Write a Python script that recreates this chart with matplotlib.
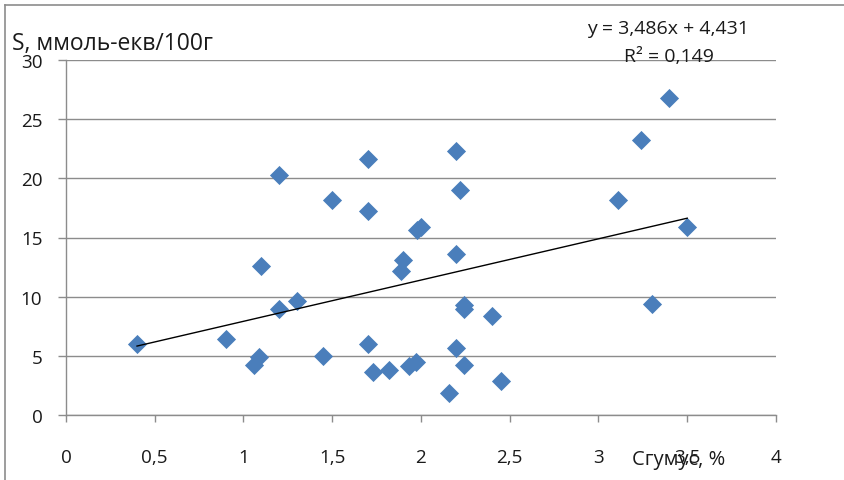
import matplotlib as mpl
mpl.use("Agg")
import matplotlib.pyplot as plt
from matplotlib.lines import Line2D
import numpy as np

plt.rcParams['font.family'] = ['Open Sans', 'DejaVu Sans']

# humus content, %
humus = [0.40, 0.90, 1.06, 1.09, 1.10, 1.20, 1.30, 1.20, 1.45, 1.50,
         1.70, 1.70, 1.70, 1.73, 1.82, 1.89, 1.90, 1.93, 1.97, 1.98,
         2.00, 2.16, 2.20, 2.20, 2.20, 2.22, 2.24, 2.24, 2.24, 2.40,
         2.45, 3.11, 3.24, 3.30, 3.40, 3.50]
# sum of exchangeable bases, mmol-eq/100g
s_val = [6.0, 6.4, 4.2, 4.9, 12.6, 9.0, 9.6, 20.3, 5.0, 18.2,
         21.6, 17.2, 6.0, 3.6, 3.8, 12.2, 13.1, 4.1, 4.5, 15.6,
         15.9, 1.9, 22.3, 13.6, 5.7, 19.0, 9.3, 9.0, 4.2, 8.4,
         2.9, 18.2, 23.2, 9.4, 26.8, 15.9]

slope = 3.486
intercept = 4.431
r2 = 0.149

xticks = [0, 0.5, 1, 1.5, 2, 2.5, 3, 3.5, 4]
xlabels = ["0", "0,5", "1", "1,5", "2", "2,5", "3", "3,5", "4"]
yticks = [0, 5, 10, 15, 20, 25, 30]

gray = "#8c8c8c"

fig = plt.figure(figsize=(8.45, 4.81), dpi=100)
ax = fig.add_axes([66/845, 1-416/481, 710/845, 355/481])

ax.scatter(humus, s_val, marker="D", s=95, color="#4a7ebb", linewidths=0, zorder=3)

xl = np.array([min(humus), max(humus)])
ax.plot(xl, slope*xl + intercept, color="black", lw=1.0, zorder=4)

ax.set_xlim(0, 4)
ax.set_ylim(0, 30)
ax.set_xticks(xticks)
ax.set_xticklabels(xlabels)
ax.set_yticks(yticks)
ax.yaxis.grid(True, color=gray, lw=1.0)
ax.set_axisbelow(True)

for side in ["top", "right"]:
    ax.spines[side].set_visible(False)
for side in ["left", "bottom"]:
    ax.spines[side].set_color(gray)
    ax.spines[side].set_linewidth(1.0)

ax.tick_params(axis="x", direction="out", length=5, width=1.0, color=gray,
               pad=19, labelsize=13.6, labelcolor="#1a1a1a")
ax.tick_params(axis="y", direction="out", length=6, width=1.0, color=gray,
               pad=11, labelsize=13.6, labelcolor="#1a1a1a")

fig.text(12/845, 1-50/481, "S, ммоль-екв/100г", fontsize=16.5, color="#1a1a1a",
         ha="left", va="baseline")
fig.text(632/845, 1-460/481, "Сгумус, %", fontsize=14.5, color="#1a1a1a",
         ha="left", va="center")

fig.text(668/845, 1-29/481, "y = 3,486x + 4,431", fontsize=14, color="#1a1a1a",
         ha="center", va="center")
fig.text(669/845, 1-57/481, "R² = 0,149", fontsize=14, color="#1a1a1a",
         ha="center", va="center")

# chart frame (left and top edges)
fig.add_artist(Line2D([5/845, 5/845], [0, 1-6/481], transform=fig.transFigure,
                      color=gray, lw=1.2))
fig.add_artist(Line2D([5/845, 1], [1-6/481, 1-6/481], transform=fig.transFigure,
                      color=gray, lw=1.2))

fig.savefig("out.png", dpi=100)
